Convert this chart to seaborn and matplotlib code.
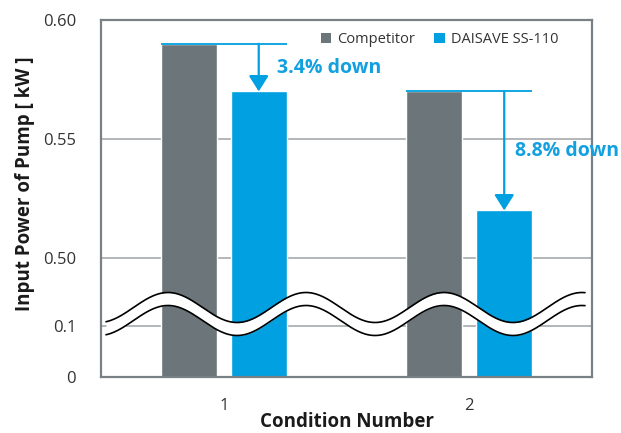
import numpy as np
import pandas as pd
import matplotlib
matplotlib.use("Agg")
import matplotlib.pyplot as plt
import seaborn as sns
from matplotlib.patches import Patch

# ---- data ----
conditions = ["1", "2"]
series = ["Competitor", "DAISAVE SS-110"]
competitor = [0.59, 0.57]
daisave = [0.57, 0.52]
ytick_values = [0, 0.1, 0.50, 0.55, 0.60]
ytick_labels = ["0", "0.1", "0.50", "0.55", "0.60"]
colors = ["#6c757a", "#00a0e1"]
blue_text = "#12a0e0"

sns.set_theme(style="white")
plt.rcParams["font.family"] = ["Open Sans", "DejaVu Sans"]

df = pd.DataFrame({
    "Condition": conditions * 2,
    "Series": [series[0]] * 2 + [series[1]] * 2,
    "Value": competitor + daisave,
})

fig = plt.figure(figsize=(6.21, 4.33), dpi=100)
ax = fig.add_axes([101 / 621, 1 - 377 / 433, (592 - 101) / 621, (377 - 20) / 433])

# broken (piecewise-linear) y scale
seg_v = [0, 0.1, 0.5, 0.6]
seg_p = [0, 51, 119, 357]
fwd = lambda v: np.interp(v, seg_v, seg_p)
inv = lambda p: np.interp(p, seg_p, seg_v)
ax.set_yscale("function", functions=(fwd, inv))

W = 0.57
sns.barplot(data=df, x="Condition", y="Value", hue="Series", palette=colors,
            width=W, gap=0.2, saturation=1, ax=ax, legend=False)

ax.set_ylim(0, 0.6)
ax.set_xlim(-0.5, 1.5)
ax.set_yticks(ytick_values)
ax.set_yticklabels(ytick_labels)
ax.tick_params(axis="y", length=0, pad=18, labelsize=12, labelcolor="#333333")
ax.tick_params(axis="x", length=0, pad=15, labelsize=12, labelcolor="#333333")
ax.grid(axis="y", color="#a6aaae", lw=1.2)
ax.set_axisbelow(True)
for s in ax.spines.values():
    s.set_color("#7a8186")
    s.set_linewidth(1.6)
    s.set_visible(True)

ax.set_xlabel("Condition Number", fontsize=13.5, fontweight="bold", color="#1a1a1a")
ax.set_ylabel("Input Power of Pump [ kW ]", fontsize=13.5, fontweight="bold", color="#1a1a1a")
ax.xaxis.set_label_coords(0.5, -0.098)
ax.yaxis.set_label_coords(-0.135, 0.54)

# legend
handles = [Patch(facecolor=c, edgecolor="none") for c in colors]
ax.legend(handles, series, loc="center", bbox_to_anchor=(0.69, 0.944), ncol=2,
          frameon=False, fontsize=10.5, handlelength=0.7, handleheight=0.7,
          handletextpad=0.45, columnspacing=1.3, labelcolor="#333333")

# reduction annotations
slot = W / 2
bw = slot * (1 - 0.2)
text_offsets = [13.5, 8]
for i in range(len(conditions)):
    c, d = competitor[i], daisave[i]
    left = i - slot / 2 - bw / 2
    right = i + slot / 2 + bw / 2
    bx = i + slot / 2
    ax.plot([left, right], [c, c], color=colors[1], lw=1.3, zorder=4, solid_capstyle="butt")
    ax.annotate("", xy=(bx, d), xytext=(bx, c),
                arrowprops=dict(arrowstyle="-|>,head_length=0.95,head_width=0.6",
                                mutation_scale=10, color=colors[1], lw=1.6,
                                shrinkA=0, shrinkB=0), zorder=4)
    pct = (1 - d / c) * 100
    ax.annotate(f"{pct:.1f}% down", xy=(bx, (c + d) / 2), xytext=(text_offsets[i], 0),
                textcoords="offset points", ha="left", va="center",
                fontsize=14, fontweight="bold", color=blue_text)

# wavy axis break
xs_px = np.linspace(106, 585, 400)
upper_px = 307.5 + 15 * np.cos(2 * np.pi * (xs_px - 237) / 138)
lower_px = upper_px + 13
fx = (xs_px - 101) / 491
fu = (377 - upper_px) / 357
fl = (377 - lower_px) / 357
ax.fill_between(fx, fl, fu, color="white", transform=ax.transAxes, zorder=5, lw=0)
ax.plot(fx, fu, color="black", lw=1.2, transform=ax.transAxes, zorder=6)
ax.plot(fx, fl, color="black", lw=1.2, transform=ax.transAxes, zorder=6)

fig.savefig("out.png", dpi=100)
